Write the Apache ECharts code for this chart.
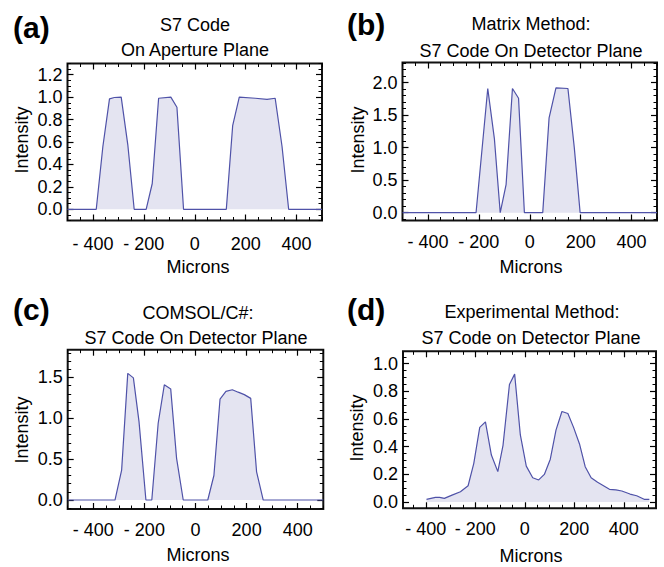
<!DOCTYPE html>
<html><head><meta charset="utf-8">
<script src="https://cdn.jsdelivr.net/npm/echarts@6/dist/echarts.min.js"></script>
<style>html,body{margin:0;padding:0;background:#fff}#c{width:664px;height:567px}</style>
</head><body><div id="c"></div>
<script>
// ---------- data ----------
const aMicrons   = [-500,-387,-361,-335,-316,-289,-263,-238,-191,-167,-142,-94,-70,-44,124,149,175,238,284,316,343,369,500];
const aIntensity = [0,0,0.56,0.985,0.997,1.0,0.575,0,0,0.23,0.99,1.0,0.91,0,0,0.745,1.0,0.99,0.98,0.99,0.56,0,0];

const bMicrons   = [-500,-211,-165,-139,-116,-93,-68,-44,-21,51,76,103,150,175,198,500];
const bIntensity = [0,0,1.91,1.14,0,0.43,1.91,1.76,0,0,1.46,1.92,1.91,1.0,0,0];

const cMicrons   = [-500,-315,-289,-265,-243,-221,-194,-171,-146,-122,-97,-74,-48,48,72,96,119,144,167,191,216,239,265,500];
const cIntensity = [0,0,0.366,1.55,1.495,0.96,0,0,0.94,1.41,1.36,0.51,0,0,0.30,1.236,1.33,1.35,1.32,1.29,1.244,0.345,0,0];

const dMicrons   = [-397,-361,-344,-325,-294,-260,-229,-206,-182,-159,-135,-109,-88,-62,-41,-18,6,32,56,79,103,126,150,174,197,221,244,268,294,318,342,368,392,425,452,482,503];
const dIntensity = [0.02,0.034,0.034,0.027,0.05,0.075,0.118,0.28,0.54,0.58,0.34,0.22,0.41,0.85,0.925,0.485,0.26,0.176,0.16,0.20,0.31,0.52,0.655,0.64,0.54,0.42,0.256,0.176,0.143,0.118,0.092,0.088,0.08,0.058,0.046,0.02,0.02];

// tick labels
const xTickLabels = [-400,-200,0,200,400];
const aYTicks = [0,0.2,0.4,0.6,0.8,1.0,1.2];
const bYTicks = [0,0.5,1.0,1.5,2.0];
const cYTicks = [0,0.5,1.0,1.5];
const dYTicks = [0,0.2,0.4,0.6,0.8,1.0];

const panelLabels = ['(a)','(b)','(c)','(d)'];
const titles = [
  ['S7 Code','On Aperture Plane'],
  ['Matrix Method:','S7 Code On Detector Plane'],
  ['COMSOL/C#:','S7 Code On Detector Plane'],
  ['Experimental Method:','S7 Code on Detector Plane']
];
const xName = 'Microns', yName = 'Intensity';

// ---------- layout ----------
const FONT = "'Liberation Sans', Arial, Helvetica, sans-serif";
const panels = [
  {xs:aMicrons, ys:aIntensity, grid:{left:67.5, top:63.5, width:254.5, height:157}, xr:[-500,500], yr:[-0.1,1.3], yMajor:aYTicks, yMinorStep:0.05,
   lab:[13,27], t1:[195,24.5], t2:[195,49.5], xn:[198,267], yn:[22,140], xm:14},
  {xs:bMicrons, ys:bIntensity, grid:{left:402.5, top:62.5, width:254.5, height:158}, xr:[-500,500], yr:[-0.12,2.31], yMajor:bYTicks, yMinorStep:0.1,
   lab:[347,24], t1:[531,23.5], t2:[531,50.5], xn:[531,267], yn:[358,140], xm:12},
  {xs:cMicrons, ys:cIntensity, grid:{left:67.7, top:349.7, width:255.6, height:159.3}, xr:[-500,500], yr:[-0.11,1.84], yMajor:cYTicks, yMinorStep:0.1,
   lab:[13,309], t1:[198,312.5], t2:[196,338], xn:[198,555], yn:[22,430], xm:12},
  {xs:dMicrons, ys:dIntensity, grid:{left:403, top:351.3, width:253, height:157}, xr:[-492,530], yr:[-0.045,1.09], yMajor:dYTicks, yMinorStep:0.05,
   lab:[347,309], t1:[532,312], t2:[531,338], xn:[531,556], yn:[357,428], xm:12}
];

function steps(lo, hi, step){
  const out=[]; const k0=Math.ceil(lo/step-1e-9), k1=Math.floor(hi/step+1e-9);
  for(let k=k0;k<=k1;k++) out.push(+(k*step).toFixed(6));
  return out;
}
const xFmt = v => v < 0 ? '- ' + Math.abs(v) : String(v);
const yFmt = v => (+v).toFixed(1);

const grids=[], xAxes=[], yAxes=[], series=[], graphics=[];
panels.forEach((p,i)=>{
  grids.push(Object.assign({show:true, borderColor:'#111', borderWidth:2, backgroundColor:'rgba(0,0,0,0)'}, p.grid));
  const xMinor = steps(p.xr[0], p.xr[1], 50);
  const yMinor = steps(p.yr[0], p.yr[1], p.yMinorStep);
  const base = (min,max)=>({gridIndex:i, type:'value', min, max, axisLine:{show:false, onZero:false}, splitLine:{show:false}});
  ['bottom','top'].forEach(pos=>{
    xAxes.push(Object.assign(base(p.xr[0],p.xr[1]), {position:pos,
      axisTick:{show:true, inside:true, length:6, customValues:xTickLabels, lineStyle:{color:'#000', width:1.2}},
      axisLabel:{show:pos==='bottom', customValues:xTickLabels, formatter:xFmt, margin:p.xm, fontSize:18, color:'#000', fontFamily:FONT}}));
    xAxes.push(Object.assign(base(p.xr[0],p.xr[1]), {position:pos,
      axisTick:{show:true, inside:true, length:3.5, customValues:xMinor, lineStyle:{color:'#000', width:1}},
      axisLabel:{show:false}}));
  });
  ['left','right'].forEach(pos=>{
    yAxes.push(Object.assign(base(p.yr[0],p.yr[1]), {position:pos,
      axisTick:{show:true, inside:true, length:6, customValues:p.yMajor, lineStyle:{color:'#000', width:1.2}},
      axisLabel:{show:pos==='left', customValues:p.yMajor, formatter:yFmt, margin:5, fontSize:18, color:'#000', fontFamily:FONT}}));
    yAxes.push(Object.assign(base(p.yr[0],p.yr[1]), {position:pos,
      axisTick:{show:true, inside:true, length:3.5, customValues:yMinor, lineStyle:{color:'#000', width:1}},
      axisLabel:{show:false}}));
  });
  series.push({type:'line', xAxisIndex:4*i, yAxisIndex:4*i, data:p.xs.map((x,j)=>[x,p.ys[j]]),
    showSymbol:false, symbol:'none', animation:false,
    lineStyle:{color:'#4f52a8', width:1.2},
    areaStyle:{color:'rgba(61,61,153,0.2)'}});
  const txt=(x,y,text,font,align,rot)=>({type:'text', x, y, rotation:rot||0,
    style:{text, font, fill:'#000', align:align||'center', verticalAlign:'middle'}});
  graphics.push(txt(p.lab[0],p.lab[1],panelLabels[i],"bold 30px "+FONT,'left'));
  graphics.push(txt(p.t1[0],p.t1[1],titles[i][0],"18px "+FONT));
  graphics.push(txt(p.t2[0],p.t2[1],titles[i][1],"18px "+FONT));
  graphics.push(txt(p.xn[0],p.xn[1],xName,"18px "+FONT));
  graphics.push(txt(p.yn[0],p.yn[1],yName,"18px "+FONT,'center',Math.PI/2));
});

const chart = echarts.init(document.getElementById('c'), null, {renderer:'svg'});
chart.setOption({animation:false, backgroundColor:'#fff', grid:grids, xAxis:xAxes, yAxis:yAxes, series, graphic:graphics});
</script></body></html>
